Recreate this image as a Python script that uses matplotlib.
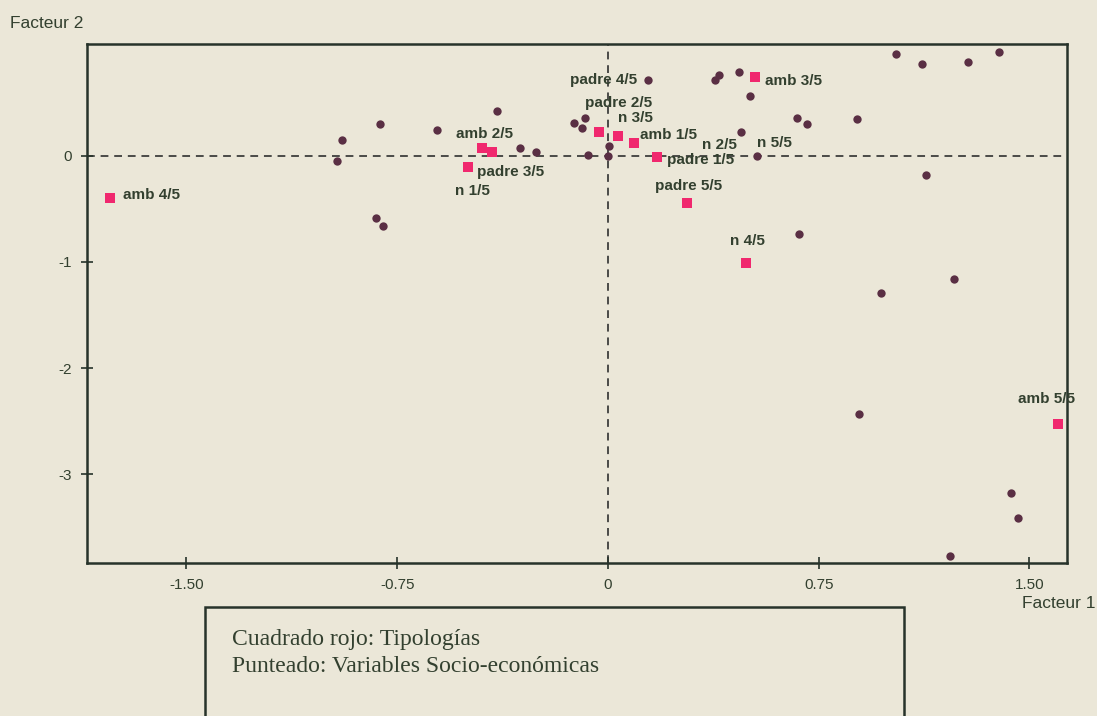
import numpy as np
import matplotlib.pyplot as plt

# typologies (red squares)
typ_labels = ["amb 1/5", "amb 2/5", "amb 3/5", "amb 4/5", "amb 5/5",
              "n 1/5", "n 2/5", "n 3/5", "n 4/5", "n 5/5",
              "padre 1/5", "padre 2/5", "padre 3/5", "padre 4/5", "padre 5/5"]
typ_x = [0.093, -0.447, 0.523, -1.772, 1.602,
         -0.497, 0.472, 0.036, 0.490, 0.531,
         0.174, -0.032, -0.412, 0.143, 0.282]
typ_y = [0.120, 0.070, 0.741, -0.398, -2.529,
         -0.109, 0.220, 0.185, -1.008, -0.003,
         -0.012, 0.223, 0.032, 0.713, -0.443]
# typologies whose square is covered by a dot in the original
covered = ["n 2/5", "n 5/5", "padre 4/5"]

# socio-economic variables (dots)
var_x = [-0.948, -0.965, -0.811, -0.610, -0.396, -0.313, -0.257, -0.826, -0.800,
         -0.121, -0.082, -0.094, -0.070, 0.004, 0.001,
         0.143, 0.381, 0.396, 0.466, 0.505, 0.672, 0.709, 0.531, 0.472,
         1.025, 1.119, 1.280, 1.393, 0.885, 1.131, 0.680, 1.232, 0.972,
         0.893, 1.434, 1.458, 1.216]
var_y = [0.148, -0.050, 0.296, 0.242, 0.424, 0.075, 0.032, -0.589, -0.659,
         0.305, 0.352, 0.258, 0.007, 0.091, -0.003,
         0.713, 0.713, 0.760, 0.791, 0.562, 0.352, 0.298, -0.003, 0.220,
         0.955, 0.863, 0.885, 0.976, 0.348, -0.182, -0.737, -1.161, -1.296,
         -2.430, -3.179, -3.409, -3.766]

xticks = [-1.5, -0.75, 0, 0.75, 1.5]
xtick_labels = ["-1.50", "-0.75", "0", "0.75", "1.50"]
yticks = [0, -1, -2, -3]
ytick_labels = ["0", "-1", "-2", "-3"]

# label offsets in pixels (dx, dy) from the point, text left/center
offsets = {
    "amb 1/5": (6, 8), "amb 2/5": (-26, 14), "amb 3/5": (10, -4),
    "amb 4/5": (13, 3), "amb 5/5": (-40, 25),
    "n 1/5": (-13, -24), "n 2/5": (-39, -13), "n 3/5": (0, 18),
    "n 4/5": (-16, 22), "n 5/5": (0, 13),
    "padre 1/5": (10, -3), "padre 2/5": (-14, 29), "padre 3/5": (-15, -20),
    "padre 4/5": (-78, 0), "padre 5/5": (-32, 17),
}

bg = "#ebe7d8"
ink = "#33402f"
frame = "#27332a"

fig = plt.figure(figsize=(10.97, 7.16), dpi=100, facecolor=bg)
ax = fig.add_axes([0.079, 0.2137, 0.8932, 0.7249], facecolor=bg)

ax.axhline(0, color="#4a4a48", lw=1.4, ls=(0, (4, 3)), zorder=1)
ax.axvline(0, color="#4a4a48", lw=1.4, ls=(0, (4, 3)), zorder=1)

sq = [i for i, lab in enumerate(typ_labels) if lab not in covered]
ax.scatter([typ_x[i] for i in sq], [typ_y[i] for i in sq], marker="s", s=52,
           color="#f0286e", linewidths=0, zorder=3)
ax.scatter(var_x, var_y, marker="o", s=36, color="#5a2f44", linewidths=0, zorder=4)

for lab, x, y in zip(typ_labels, typ_x, typ_y):
    dx, dy = offsets[lab]
    ax.annotate(lab, (x, y), xytext=(dx, dy), textcoords="offset pixels",
                ha="left", va="center", fontsize=11, fontweight="bold",
                color=ink, family="Liberation Sans", zorder=5)

ax.set_xlim(-1.855, 1.632)
ax.set_ylim(-3.835, 1.052)
ax.set_xticks(xticks)
ax.set_xticklabels(xtick_labels)
ax.set_yticks(yticks)
ax.set_yticklabels(ytick_labels)
ax.tick_params(direction="inout", length=9, width=1.2, color=frame,
               labelsize=11, labelcolor=ink, pad=6)
for lbl in ax.get_xticklabels() + ax.get_yticklabels():
    lbl.set_family("Liberation Sans")
for sp in ax.spines.values():
    sp.set_color(frame)
    sp.set_linewidth(1.8)

fig.text(10 / 1097, 1 - 23 / 716, "Facteur 2", fontsize=12.5, color=ink,
         family="Liberation Sans", va="center", ha="left")
fig.text(1095 / 1097, 1 - 604 / 716, "Facteur 1", fontsize=12.5, color=ink,
         family="Liberation Sans", va="center", ha="right")

# caption box
box = plt.Rectangle((205 / 1097, -0.05), (904 - 205) / 1097, (0.05 + 1 - 607 / 716),
                    transform=fig.transFigure, fill=False, edgecolor=frame, lw=1.8)
fig.add_artist(box)
fig.text(232 / 1097, 1 - 640 / 716, "Cuadrado rojo: Tipologías", fontsize=17,
         color=ink, family="Liberation Serif", va="center", ha="left")
fig.text(232 / 1097, 1 - 667 / 716, "Punteado: Variables Socio-económicas", fontsize=17,
         color=ink, family="Liberation Serif", va="center", ha="left")

fig.savefig("out.png", dpi=100, facecolor=bg)
